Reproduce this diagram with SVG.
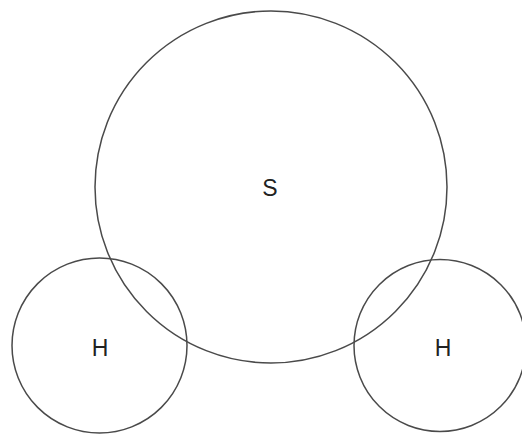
<svg xmlns="http://www.w3.org/2000/svg" width="522" height="435" viewBox="0 0 522 435">
<style>
.atom{fill:none;stroke:#4a4a4a;stroke-width:1.5}
.lbl{font-family:"Liberation Sans",Arial,sans-serif;font-size:23px;fill:#222;text-anchor:middle}
</style>
<rect width="522" height="435" fill="#fff"/>
<g id="S">
<circle class="atom" cx="271" cy="187" r="176"/>
<text class="lbl" x="270" y="196">S</text>
</g>
<g id="H1">
<circle class="atom" cx="99.5" cy="345.5" r="87.5"/>
<text class="lbl" x="100" y="356">H</text>
</g>
<g id="H2">
<circle class="atom" cx="440" cy="345.5" r="86"/>
<text class="lbl" x="443" y="356">H</text>
</g>
<g id="connectors"></g>
</svg>
